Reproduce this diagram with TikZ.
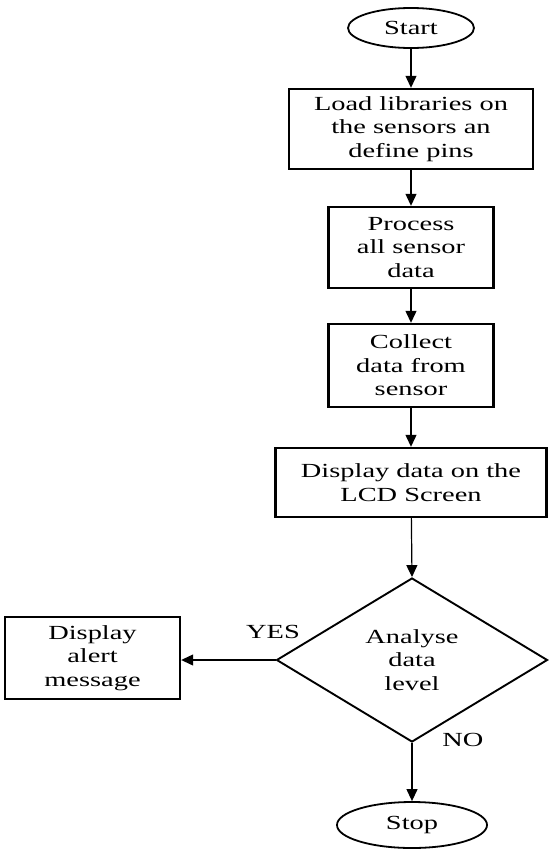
\documentclass[tikz,border=0pt]{standalone}
\usepackage{fontspec}
\setmainfont[FakeStretch=1.42]{Liberation Serif}
\usetikzlibrary{shapes.geometric,arrows.meta}
\begin{document}
\begin{tikzpicture}[x=1pt,y=-1pt,
  every node/.style={font=\fontsize{20}{23.5}\selectfont, align=center, inner sep=0pt},
  procbox/.style={draw, line width=2.4pt, rectangle},
  term/.style={draw, line width=1.8pt, ellipse},
  decide/.style={draw, line width=1.9pt, diamond, minimum width=271pt, minimum height=164pt},
  flow/.style={line width=1.2pt, -{Triangle[length=12pt,width=11pt]}},
  lbl/.style={font=\fontsize{20}{24}\selectfont}]
\useasboundingbox (0,0) rectangle (549,852);
\node[term, minimum width=126pt, minimum height=40pt] (start) at (411,28) {Start};
\node[procbox, minimum width=244pt, minimum height=80pt] (b1) at (411,129) {Load libraries on\\the sensors an\\define pins};
\node[procbox, minimum width=165pt, minimum height=81pt] (b2) at (411,247.5) {Process\\all sensor\\data};
\node[procbox, minimum width=165pt, minimum height=83pt] (b3) at (411,365.5) {Collect\\data from\\sensor};
\node[procbox, minimum width=271pt, minimum height=69pt] (b4) at (411,482.5) {Display data on the\\LCD Screen};
\node[decide] (d) at (412,660) {Analyse\\data\\level};
\node[procbox, minimum width=175pt, minimum height=82pt] (b5) at (92.5,658) {Display\\alert\\message};
\node[term, minimum width=150pt, minimum height=46pt] (stop) at (412,825) {Stop};
\draw[flow] (start) -- (b1);
\draw[flow] (b1) -- (b2);
\draw[flow] (b2) -- (b3);
\draw[flow] (b3) -- (b4);
\draw[flow] (b4) -- (d.north);
\draw[flow] (d.west) -- (b5.east |- d.west);
\draw[flow] (d.south) -- (stop);
\node[lbl] (yes) at (273,632) {YES};
\node[lbl] (no) at (463,740) {NO};
\end{tikzpicture}
\end{document}
